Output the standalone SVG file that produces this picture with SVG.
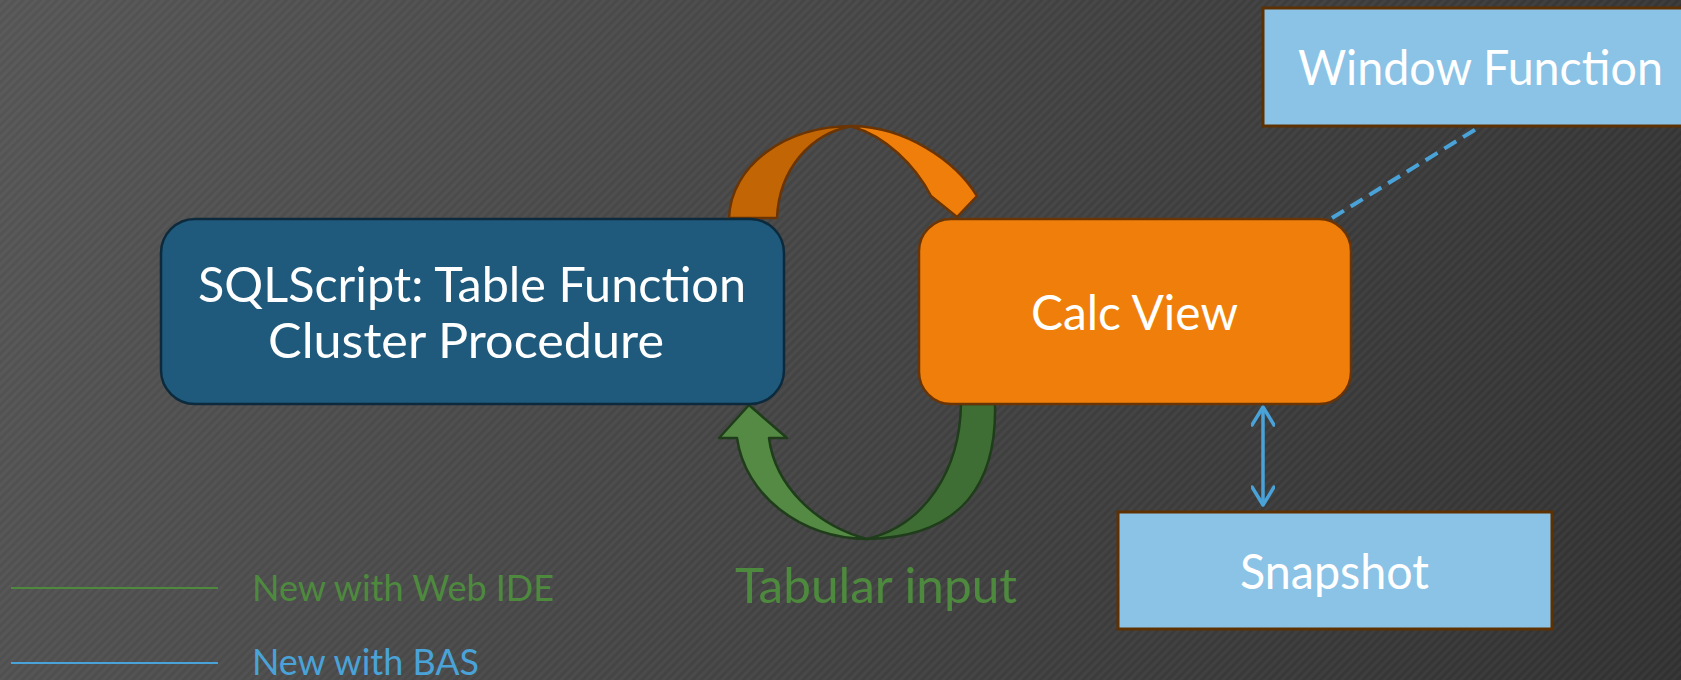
<svg xmlns="http://www.w3.org/2000/svg" width="1681" height="680" viewBox="0 0 1681 680">
  <defs>
    <linearGradient id="bg" gradientUnits="userSpaceOnUse" x1="0" y1="0" x2="1681" y2="680">
      <stop offset="0" stop-color="#555555"/>
      <stop offset="1" stop-color="#313131"/>
    </linearGradient>
    <pattern id="stripes" patternUnits="userSpaceOnUse" width="6" height="6" patternTransform="rotate(45)">
      <rect x="0" y="0" width="3" height="6" fill="#ffffff" fill-opacity="0.035"/>
    </pattern>
    <marker id="chev" viewBox="0 0 24 24" refX="21" refY="12" markerWidth="24" markerHeight="24" markerUnits="userSpaceOnUse" orient="auto-start-reverse">
      <polyline points="3,1 21,12 3,23" fill="none" stroke="#4aa3d8" stroke-width="3.5" stroke-linecap="round" stroke-linejoin="round"/>
    </marker>
    <style>
      .lbl { font-family: "Lato", "Liberation Sans", sans-serif; fill: #ffffff; font-size: 48px; }
      .box-blue { fill: #1f5a7d; stroke: #0d2a3c; stroke-width: 2.5; }
      .box-orange { fill: #ef7f0a; stroke: #6a3405; stroke-width: 2.5; }
      .box-light { fill: #8bc3e6; stroke: #5e3103; stroke-width: 3; }
      .arc-o { stroke: #6a3405; stroke-width: 2.5; stroke-linejoin: round; }
      .arc-g { stroke: #1f3d1a; stroke-width: 2.5; stroke-linejoin: round; }
      .legend { font-family: "Lato", "Liberation Sans", sans-serif; font-size: 36px; }
    </style>
  </defs>

  <!-- background -->
  <rect x="0" y="0" width="1681" height="680" fill="url(#bg)"/>
  <rect x="0" y="0" width="1681" height="680" fill="url(#stripes)"/>

  <!-- connectors -->
  <g id="connectors">
    <!-- curved arrow from SQLScript over to Calc View -->
    <g id="arrow-top">
      <path class="arc-o" fill="#c26605" d="M 729,218 C 731,165 785,126 853,126 C 810,133 779,170 777,218 Z"/>
      <path class="arc-o" fill="#ef7f0a" d="M 853,126 C 905,127 955,160 977,196 L 957,217 L 931,196 C 915,165 885,136 853,127 Z"/>
    </g>
    <!-- curved arrow from Calc View back to SQLScript -->
    <g id="arrow-bottom">
      <path class="arc-g" fill="#3f6e35" d="M 961,404 L 995,404 C 997,480 965,537 867,539 C 925,525 960,470 961,404 Z"/>
      <path class="arc-g" fill="#548a43" d="M 867,539 C 800,538 745,495 737,438 L 719,438 L 749,405 L 787,438 L 769,438 C 775,485 815,525 867,539 Z"/>
    </g>
    <!-- dashed link to Window Function -->
    <line x1="1332" y1="218" x2="1481" y2="126" stroke="#4aa3d8" stroke-width="4" stroke-dasharray="14 8"/>
    <!-- two-way link to Snapshot -->
    <line x1="1263" y1="407" x2="1263" y2="505" stroke="#4aa3d8" stroke-width="3.5" marker-start="url(#chev)" marker-end="url(#chev)"/>
  </g>

  <g id="node-sqlscript">
    <rect class="box-blue" x="161" y="219" width="623" height="185" rx="34" ry="34"/>
    <text class="lbl" x="472" y="302" text-anchor="middle" textLength="548" lengthAdjust="spacingAndGlyphs">SQLScript: Table Function</text>
    <text class="lbl" x="466" y="358" text-anchor="middle" textLength="396" lengthAdjust="spacingAndGlyphs">Cluster Procedure</text>
  </g>

  <g id="node-calcview">
    <rect class="box-orange" x="919" y="219" width="432" height="185" rx="32" ry="32"/>
    <text class="lbl" x="1134.5" y="330" text-anchor="middle" textLength="207" lengthAdjust="spacingAndGlyphs">Calc View</text>
  </g>

  <g id="node-window">
    <rect class="box-light" x="1263" y="8" width="440" height="118"/>
    <text class="lbl" x="1480.5" y="85" text-anchor="middle" textLength="365" lengthAdjust="spacingAndGlyphs">Window Function</text>
  </g>

  <g id="node-snapshot">
    <rect class="box-light" x="1118" y="512" width="434" height="117"/>
    <text class="lbl" x="1334.5" y="589" text-anchor="middle" textLength="189" lengthAdjust="spacingAndGlyphs">Snapshot</text>
  </g>

  <g id="label-tabular">
    <text x="735" y="603" font-family="Lato, 'Liberation Sans', sans-serif" font-size="48" fill="#4e8a3e" textLength="282" lengthAdjust="spacingAndGlyphs">Tabular input</text>
  </g>

  <g id="legend">
    <line x1="11" y1="588" x2="218" y2="588" stroke="#4e8a3e" stroke-width="2"/>
    <text class="legend" x="252" y="601" fill="#4e8a3e" textLength="302" lengthAdjust="spacingAndGlyphs">New with Web IDE</text>
    <line x1="11" y1="663" x2="218" y2="663" stroke="#4aa3d8" stroke-width="2"/>
    <text class="legend" x="252" y="675" fill="#4aa3d8" textLength="227" lengthAdjust="spacingAndGlyphs">New with BAS</text>
  </g>
</svg>
